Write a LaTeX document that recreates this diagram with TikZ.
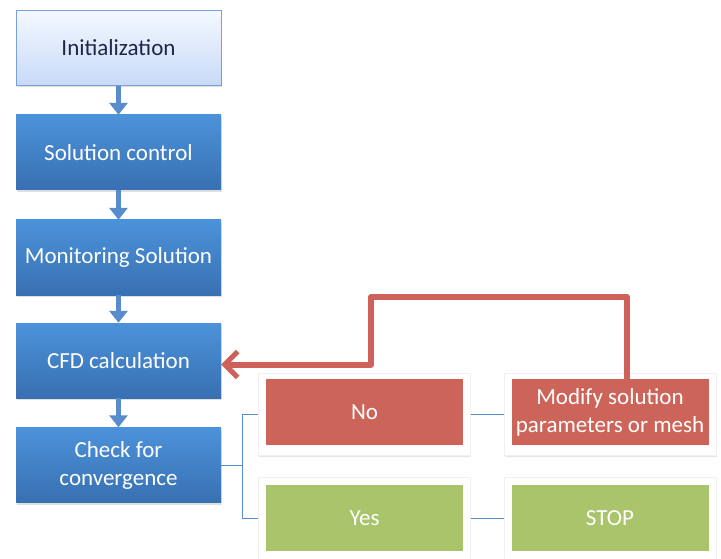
\documentclass[tikz,border=0pt]{standalone}
\usepackage{fontspec}
\setmainfont{Carlito}
\usetikzlibrary{arrows.meta,shadows}

\definecolor{blueTop}{RGB}{76,146,218}
\definecolor{blueBot}{RGB}{56,112,178}
\definecolor{blueLine}{RGB}{88,140,205}
\definecolor{initTop}{RGB}{244,248,255}
\definecolor{initBot}{RGB}{200,218,248}
\definecolor{initEdge}{RGB}{120,160,220}
\definecolor{noRed}{RGB}{205,100,90}
\definecolor{yesGreen}{RGB}{170,196,108}
\definecolor{fbRed}{RGB}{206,98,90}

\tikzset{
  stepblue/.style={rectangle, minimum width=205pt, minimum height=75pt, inner sep=0pt,
    top color=blueTop, bottom color=blueBot, text=white, align=center,
    font=\fontsize{23}{28}\selectfont,
    drop shadow={opacity=0.25, shadow xshift=1pt, shadow yshift=-2pt}},
  stepinit/.style={stepblue, top color=initTop, bottom color=initBot, draw=initEdge,
    line width=1pt, text={rgb,255:red,30;green,40;blue,70}},
  card/.style={rectangle, fill=white, draw=black!6, line width=1pt, minimum width=212pt, minimum height=82pt,
    drop shadow={opacity=0.2, shadow xshift=1pt, shadow yshift=-2pt}},
  answer/.style={rectangle, minimum width=197pt, minimum height=66pt, inner sep=0pt,
    text=white, align=center, font=\fontsize{23}{28}\selectfont},
  flow/.style={-{Triangle[width=18pt,length=12pt]}, line width=5pt, blueLine},
  branch/.style={blueLine, line width=1pt},
  feedback/.style={-{Straight Barb[width=26pt,length=13pt,line width=5pt]}, line width=6pt, fbRed, line join=round}
}

\begin{document}
\begin{tikzpicture}[x=1pt, y=-1pt]
    \useasboundingbox (0,0) rectangle (721,559);

    % Hlavni kroky
    \node[stepinit] (init) at (118.5, 48) {Initialization};
    \node[stepblue] (solctl) at (118.5, 152.5) {Solution control};
    \node[stepblue] (monitor) at (118.5, 257.5) {Monitoring Solution};
    \node[stepblue] (cfd) at (118.5, 360.5) {CFD calculation};
    \node[stepblue] (check) at (118.5, 465) {Check for\\convergence};

    % Sipky mezi kroky
    \draw[flow] (init.south) -- (solctl.north);
    \draw[flow] (solctl.south) -- (monitor.north);
    \draw[flow] (monitor.south) -- (cfd.north);
    \draw[flow] (cfd.south) -- (check.north);

    % Karty odpovedi
    \node[card] (nocard) at (364, 414) {};
    \node[card] (modcard) at (610, 414) {};
    \node[card] (yescard) at (364, 518.5) {};
    \node[card] (stopcard) at (610, 518.5) {};
    \node[answer, fill=noRed] (no) at (364.5, 412) {No};
    \node[answer, fill=noRed] (modify) at (610, 412) {Modify solution\\parameters or mesh};
    \node[answer, fill=yesGreen] (yes) at (364.5, 518) {Yes};
    \node[answer, fill=yesGreen] (stop) at (610, 518) {STOP};

    % Vetveni
    \coordinate (split) at (242, 465);
    \draw[branch] (check.east) -- (split);
    \draw[branch] (split) |- (nocard.west);
    \draw[branch] (split) |- (yescard.west);
    \draw[branch] (nocard.east) -- (modcard.west);
    \draw[branch] (yescard.east) -- (stopcard.west);

    % Zpetna vazba
    \coordinate (back) at (371, 297);
    \draw[feedback] ([xshift=17pt]modify.north) |- (back) |- ([yshift=-4pt]cfd.east);
\end{tikzpicture}
\end{document}
